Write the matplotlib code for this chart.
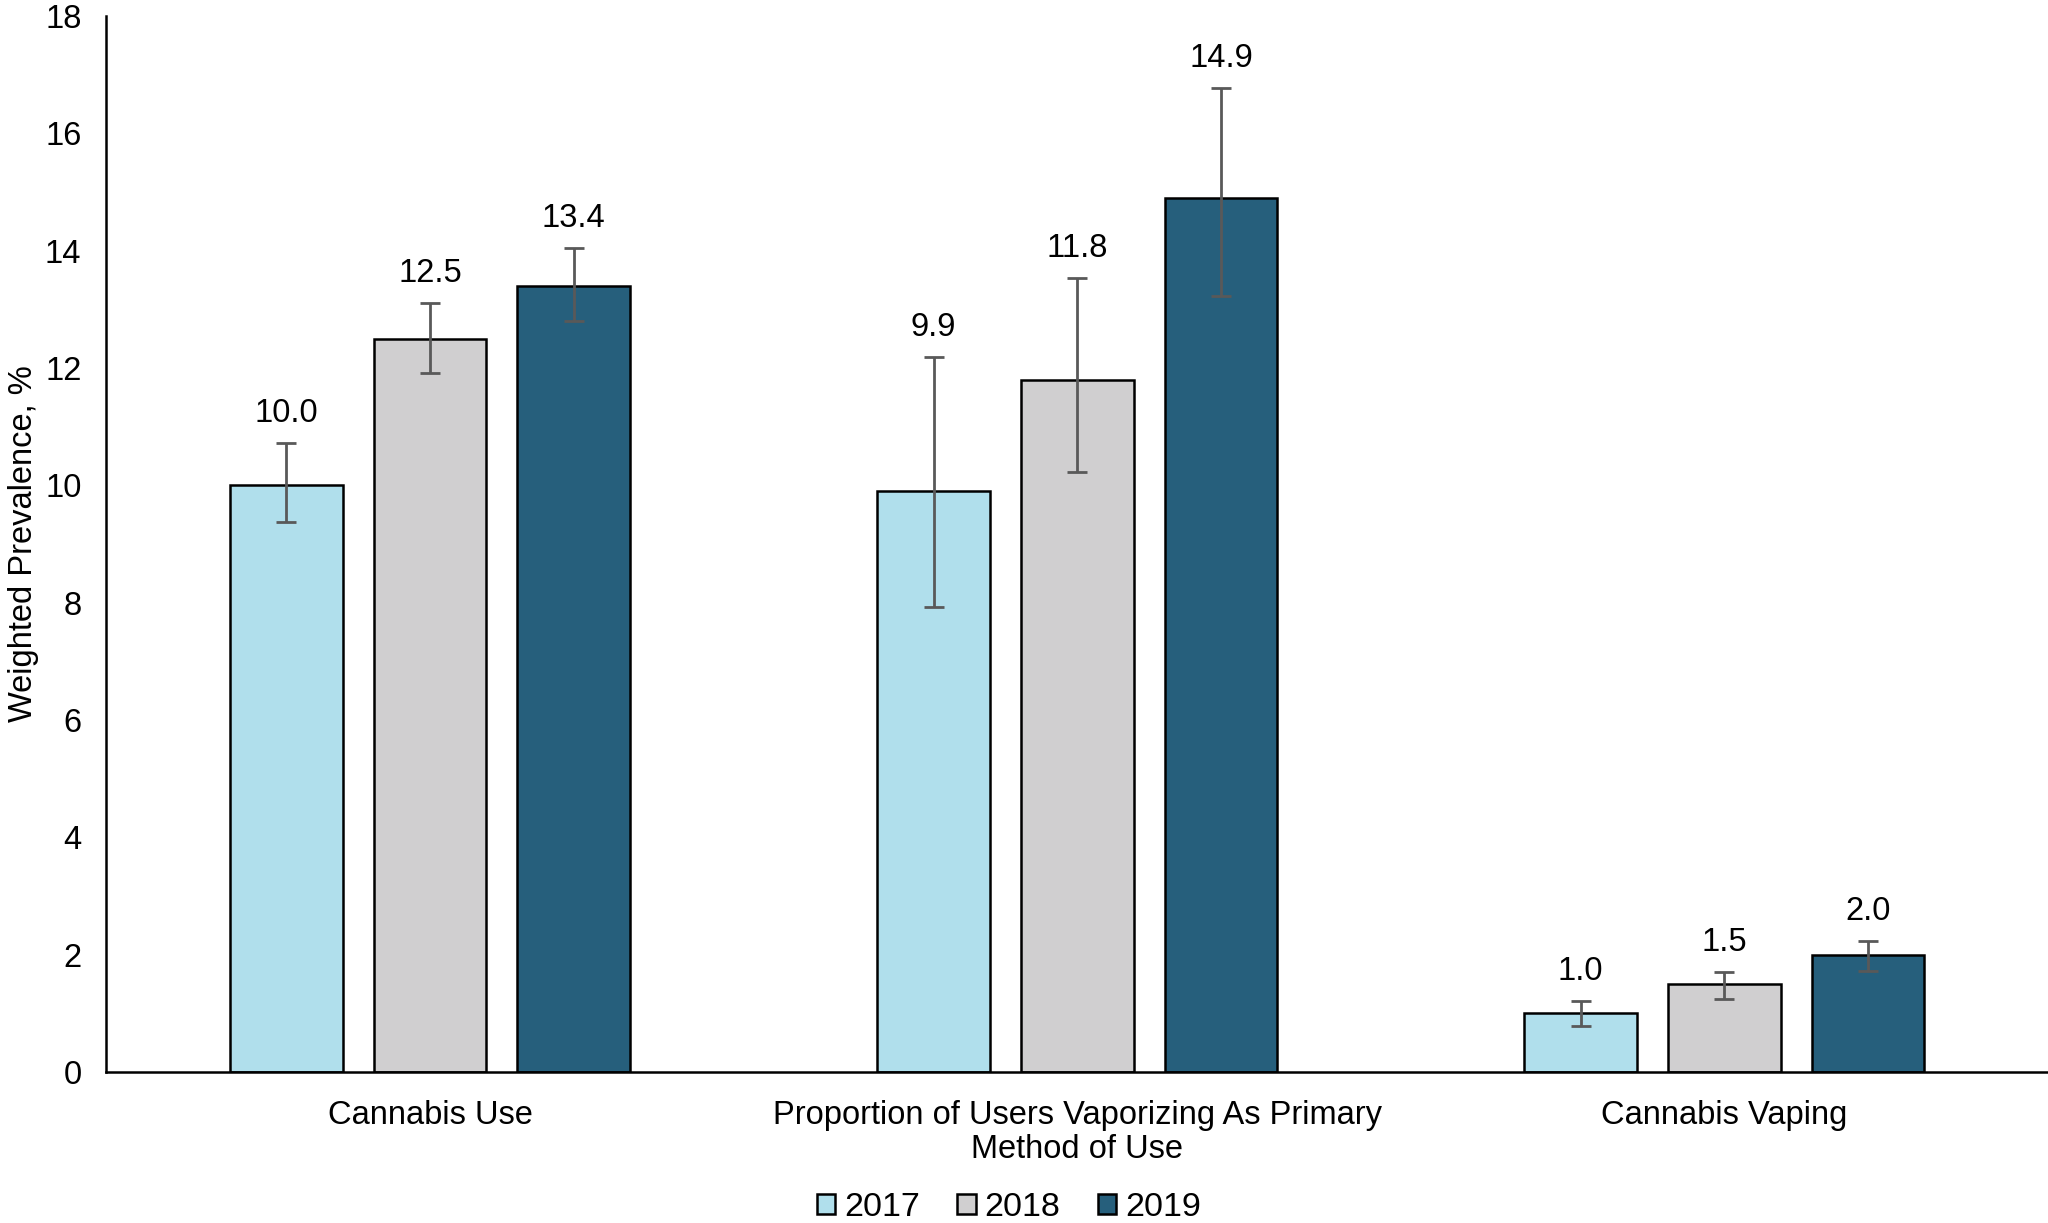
import numpy as np
import matplotlib
matplotlib.use('Agg')
import matplotlib.pyplot as plt

plt.rcParams['font.family'] = ['Liberation Sans', 'DejaVu Sans']

# ── Data ──────────────────────────────────────────────────────────────────
categories = ['Cannabis Use',
              'Proportion of Users Vaporizing As Primary\nMethod of Use',
              'Cannabis Vaping']
years = ['2017', '2018', '2019']

values = {
    '2017': [10.0, 9.9, 1.0],
    '2018': [12.5, 11.8, 1.5],
    '2019': [13.4, 14.9, 2.0],
}
ci_low = {
    '2017': [9.38, 7.93, 0.78],
    '2018': [11.92, 10.23, 1.25],
    '2019': [12.80, 13.22, 1.72],
}
ci_high = {
    '2017': [10.72, 12.19, 1.21],
    '2018': [13.11, 13.53, 1.70],
    '2019': [14.05, 16.77, 2.23],
}

colors = {'2017': '#B0DFEC', '2018': '#D0CFD0', '2019': '#265F7C'}

FS = 23.5

fig = plt.figure(figsize=(20.48, 12.23), dpi=100)
ax = fig.add_axes([0.052, 0.1235, 0.948, 0.8635])

x = np.arange(len(categories))
width = 0.174
step = 0.222

for i, yr in enumerate(years):
    vals = np.array(values[yr])
    lo = vals - np.array(ci_low[yr])
    hi = np.array(ci_high[yr]) - vals
    pos = x + (i - 1) * step
    ax.bar(pos, vals, width, color=colors[yr], edgecolor='black',
           linewidth=1.8, label=yr, zorder=2)
    ax.errorbar(pos, vals, yerr=[lo, hi], fmt='none', ecolor='#595959',
                elinewidth=2, capsize=7, capthick=2, zorder=3)
    for p, v, top in zip(pos, vals, ci_high[yr]):
        ax.annotate(f'{v:.1f}', (p, top), xytext=(0, 10),
                    textcoords='offset points', ha='center', va='bottom',
                    fontsize=FS)

ax.set_xlim(-0.5, 2.5)
ax.set_ylim(0, 18)
ax.set_yticks(range(0, 19, 2))
ax.set_xticks(x)
ax.set_xticklabels(categories, fontsize=FS, linespacing=1.15)
ax.tick_params(axis='y', length=0, labelsize=FS, pad=18)
ax.tick_params(axis='x', length=0, pad=20)
ax.set_ylabel('Weighted Prevalence, %', fontsize=FS)
ax.yaxis.set_label_coords(-0.035, 0.5)

for s in ['top', 'right']:
    ax.spines[s].set_visible(False)
ax.spines['left'].set_linewidth(1.8)
ax.spines['bottom'].set_linewidth(1.8)

fig.legend(loc='lower center', bbox_to_anchor=(0.4925, -0.003), ncol=3,
           frameon=False, fontsize=24.5, handlelength=0.55, handleheight=0.55,
           handletextpad=0.25, columnspacing=1.1, borderaxespad=0.0,
           borderpad=0.1)

fig.savefig('out.png', dpi=100)
